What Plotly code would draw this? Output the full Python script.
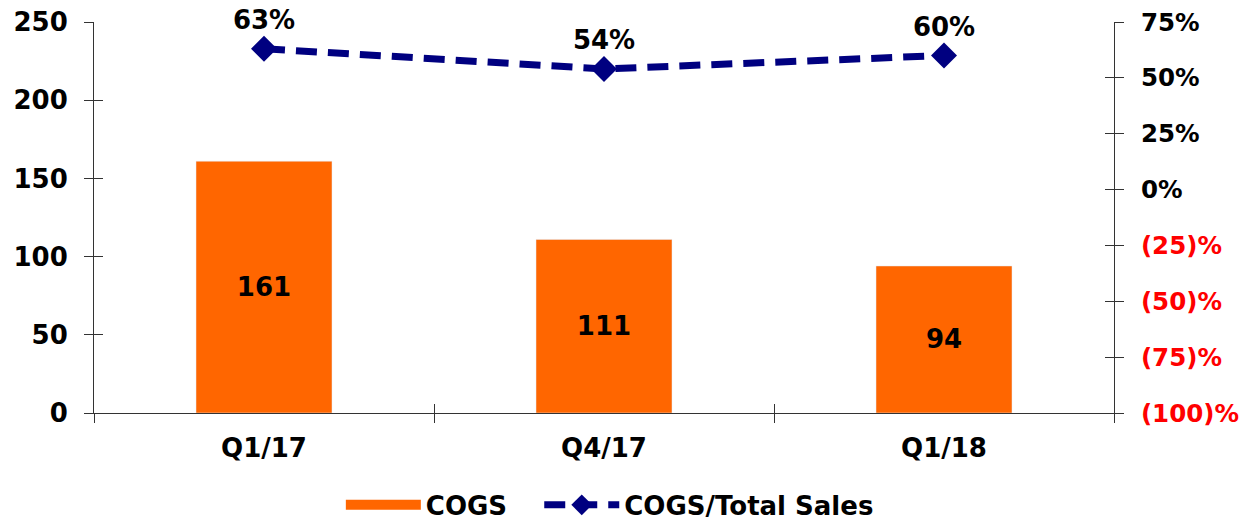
import plotly.graph_objects as go

categories = ["Q1/17", "Q4/17", "Q1/18"]
cogs = [161, 111, 94]
ratio = [0.63, 0.54, 0.60]
ratio_labels = ["63%", "54%", "60%"]
left_ticks = [0, 50, 100, 150, 200, 250]
right_tickvals = [-1.0, -0.75, -0.5, -0.25, 0.0, 0.25, 0.5, 0.75]
right_ticktext = ["(100)%", "(75)%", "(50)%", "(25)%", "0%", "25%", "50%", "75%"]

FONT = "DejaVu Sans"
FS = 26
RED = "#FF0000"
ORANGE = "#FF6600"
NAVY = "#000080"
right_text = [f"<span style='color:{RED}'>{t}</span>" if v < 0 else t
              for t, v in zip(right_ticktext, right_tickvals)]

fig = go.Figure()
fig.add_trace(go.Bar(
    x=categories, y=cogs, name="COGS", marker_color=ORANGE,
    width=0.4, text=[str(v) for v in cogs], textposition="inside",
    insidetextanchor="middle", showlegend=False,
    textfont=dict(family=FONT, size=FS, color="black", weight="bold"),
    xaxis="x", yaxis="y",
))
# legend proxy for the bar series (wide rectangular swatch)
fig.add_trace(go.Scatter(
    x=[None], y=[None], name="COGS\u00a0\u00a0\u00a0", mode="lines",
    line=dict(color=ORANGE, width=20), showlegend=True,
))
fig.add_trace(go.Scatter(
    x=categories, y=ratio, name="COGS/Total Sales", mode="lines+markers+text",
    line=dict(color=NAVY, width=7, dash="21px,11px"),
    marker=dict(symbol="diamond", size=20, color=NAVY),
    text=ratio_labels, textposition="top center",
    textfont=dict(family=FONT, size=FS, color="black", weight="bold"),
    yaxis="y2", cliponaxis=False,
))
# invisible traces for crossing tick overlays
fig.add_trace(go.Scatter(x=categories, y=cogs, xaxis="x2", yaxis="y3",
                         mode="markers", marker=dict(opacity=0), showlegend=False,
                         hoverinfo="skip"))
fig.add_trace(go.Scatter(x=categories, y=ratio, xaxis="x2", yaxis="y4",
                         mode="markers", marker=dict(opacity=0), showlegend=False,
                         hoverinfo="skip"))

tickfont = dict(family=FONT, size=FS, color="black", weight="bold")
axcol = "#333333"
fig.update_layout(
    width=1247, height=521,
    margin=dict(l=86, r=141, t=14, b=116, autoexpand=False),
    plot_bgcolor="white", paper_bgcolor="white",
    font=dict(family=FONT),
    xaxis=dict(type="category", categoryorder="array", categoryarray=categories,
               range=[-0.5, 2.5], tickson="boundaries", ticks="outside", ticklen=9,
               tickcolor=axcol, showline=True, linecolor=axcol, linewidth=1,
               tickfont=tickfont, showgrid=False, zeroline=False, automargin=False,
               ticklabelstandoff=12),
    xaxis2=dict(type="category", categoryorder="array", categoryarray=categories,
                range=[-0.5, 2.5], tickson="boundaries", ticks="inside", ticklen=9,
                tickcolor=axcol, overlaying="x", anchor="y3", side="bottom",
                showticklabels=False, showline=False, showgrid=False, zeroline=False,
                automargin=False),
    yaxis=dict(range=[0, 250], tickvals=left_ticks, ticks="outside", ticklen=9,
               tickcolor=axcol, showline=True, linecolor=axcol, linewidth=1,
               tickfont=tickfont, showgrid=False, zeroline=False, ticklabelstandoff=11,
               automargin=False, ticklabeloverflow="allow"),
    yaxis3=dict(range=[0, 250], tickvals=left_ticks, ticks="inside", ticklen=9,
                tickcolor=axcol, overlaying="y", side="left", anchor="x2",
                showticklabels=False, showline=False, showgrid=False, zeroline=False,
                automargin=False),
    yaxis2=dict(range=[-1.0, 0.75], tickvals=right_tickvals, ticktext=right_text,
                overlaying="y", side="right", anchor="x", ticks="outside", ticklen=9,
                tickcolor=axcol, showline=True, linecolor=axcol, linewidth=1,
                tickfont=dict(family=FONT, size=24.5, color="black", weight="bold"),
                showgrid=False, zeroline=False, ticklabelstandoff=12,
                automargin=False, ticklabeloverflow="allow"),
    yaxis4=dict(range=[-1.0, 0.75], tickvals=right_tickvals, ticks="inside", ticklen=9,
                tickcolor=axcol, overlaying="y", side="right", anchor="x2",
                showticklabels=False, showline=False, showgrid=False, zeroline=False,
                automargin=False),
    legend=dict(orientation="h", x=0.242, xanchor="left", y=-0.175, yanchor="top",
                font=dict(family=FONT, size=FS, color="black", weight="bold"),
                itemwidth=75, traceorder="normal"),
    showlegend=True,
)

fig.write_html("out.html")
